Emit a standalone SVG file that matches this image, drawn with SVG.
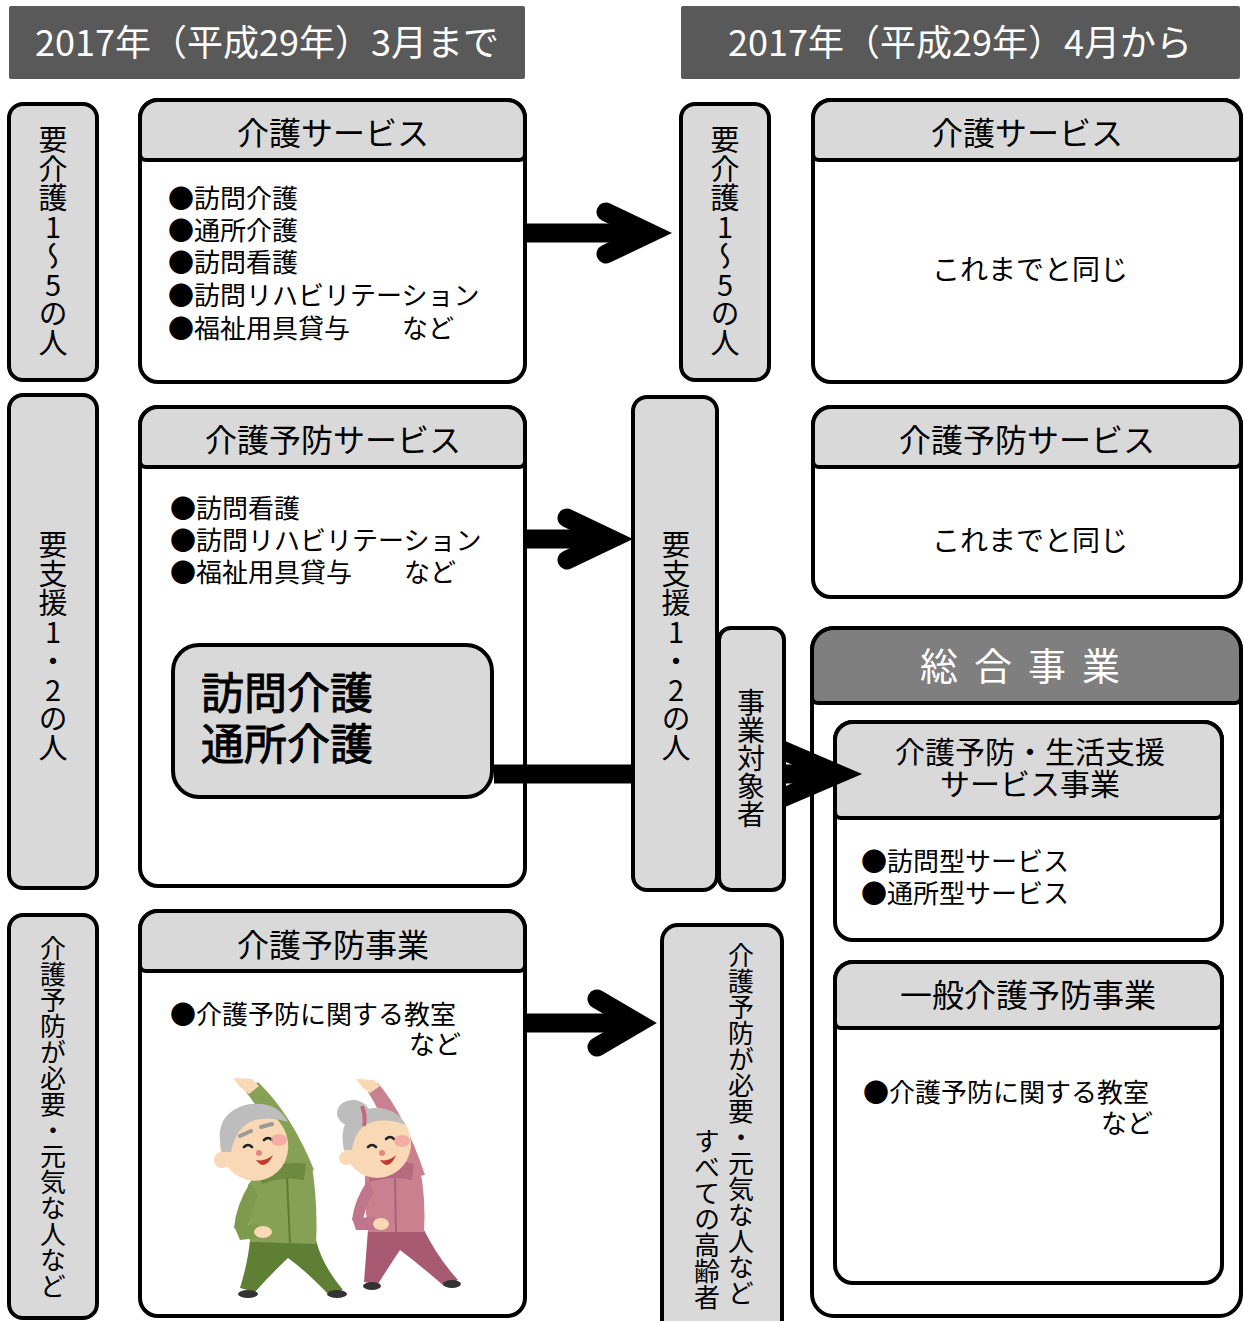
<svg xmlns="http://www.w3.org/2000/svg" width="1244" height="1321" viewBox="0 0 1244 1321">
  <style>
    text { font-family: "Noto Sans CJK JP", "Noto Sans", sans-serif; fill: #000; }
    .band { fill: #595959; }
    .band-t { fill: #fff; font-size: 36px; text-anchor: middle; }
    .box { fill: #fff; stroke: #000; stroke-width: 4; }
    .hdr { fill: #d9d9d9; stroke: #000; stroke-width: 4; }
    .hdr-dark { fill: #7f7f7f; stroke: #000; stroke-width: 4; }
    .lbl { fill: #d9d9d9; stroke: #000; stroke-width: 4; }
    .title { font-size: 32px; text-anchor: middle; }
    .item { font-size: 26px; }
    .same { font-size: 28px; text-anchor: middle; }
    .big { font-size: 43px; stroke: #000; stroke-width: 0.9; }
    .vert { writing-mode: vertical-rl; text-orientation: upright; }
    .v29 { font-size: 29px; }
    .v26 { font-size: 26px; }
    .arrow { fill: none; stroke: #000; stroke-width: 19; }
    .head { stroke-linejoin: miter; stroke-linecap: round; stroke-miterlimit: 6; }
  </style>

  <!-- period bands -->
  <g id="period-before">
    <rect class="band" x="9" y="6" width="516" height="73" rx="2"/>
    <text class="band-t" x="267" y="56">2017年（平成29年）3月まで</text>
  </g>
  <g id="period-after">
    <rect class="band" x="681" y="6" width="559" height="73" rx="2"/>
    <text class="band-t" x="960" y="56">2017年（平成29年）4月から</text>
  </g>

  <!-- left: target groups -->
  <g id="label-care-1-5">
    <rect class="lbl" x="9" y="104" width="88" height="276" rx="14"/>
    <text class="vert v29" x="53" y="125">要介護1～5の人</text>
  </g>
  <g id="label-support-1-2">
    <rect class="lbl" x="9" y="395" width="88" height="493" rx="14"/>
    <text class="vert v29" x="53" y="530">要支援1・2の人</text>
  </g>
  <g id="label-general">
    <rect class="lbl" x="9" y="915" width="88" height="403" rx="14"/>
    <text class="vert v26" x="53" y="935">介護予防が必要・元気な人など</text>
  </g>

  <!-- left: services until March -->
  <g id="care-service-before">
    <rect class="box" x="140" y="100" width="385" height="282" rx="18"/>
    <path class="hdr" d="M140,118 A18,18 0 0 1 158,100 H507 A18,18 0 0 1 525,118 V154 A6,6 0 0 1 519,160 H146 A6,6 0 0 1 140,154 Z"/>
    <text class="title" x="333" y="145">介護サービス</text>
    <text class="item" x="168" y="208">●訪問介護</text>
    <text class="item" x="168" y="240">●通所介護</text>
    <text class="item" x="168" y="272">●訪問看護</text>
    <text class="item" x="168" y="305">●訪問リハビリテーション</text>
    <text class="item" x="168" y="338">●福祉用具貸与　　など</text>
  </g>

  <g id="prevention-service-before">
    <rect class="box" x="140" y="407" width="385" height="479" rx="18"/>
    <path class="hdr" d="M140,425 A18,18 0 0 1 158,407 H507 A18,18 0 0 1 525,425 V461 A6,6 0 0 1 519,467 H146 A6,6 0 0 1 140,461 Z"/>
    <text class="title" x="333" y="452">介護予防サービス</text>
    <text class="item" x="170" y="518">●訪問看護</text>
    <text class="item" x="170" y="550">●訪問リハビリテーション</text>
    <text class="item" x="170" y="582">●福祉用具貸与　　など</text>
  </g>
  <g id="home-day-care">
    <rect class="lbl" x="173" y="645" width="319" height="152" rx="26"/>
    <text class="big" x="201" y="709">訪問介護</text>
    <text class="big" x="201" y="760">通所介護</text>
  </g>

  <g id="prevention-project-before">
    <rect class="box" x="140" y="911" width="385" height="405" rx="18"/>
    <path class="hdr" d="M140,929 A18,18 0 0 1 158,911 H507 A18,18 0 0 1 525,929 V965 A6,6 0 0 1 519,971 H146 A6,6 0 0 1 140,965 Z"/>
    <text class="title" x="333" y="957">介護予防事業</text>
    <text class="item" x="170" y="1024">●介護予防に関する教室</text>
    <text class="item" x="461" y="1054" text-anchor="end">など</text>

    <!-- two seniors doing a side stretch -->
    <g id="stretching-seniors">
      <!-- man, green tracksuit -->
      <path d="M246,1092 L258,1082 Q292,1115 314,1170 L288,1178 Q276,1130 246,1092 Z" fill="#86a055"/>
      <path d="M233,1078 L252,1079 L259,1086 L249,1094 L240,1087 Z" fill="#f8d8b5"/>
      <path d="M250,1240 L316,1240 Q322,1265 343,1290 L328,1294 Q305,1270 288,1258 Q270,1275 255,1292 L240,1288 Q248,1262 250,1240 Z" fill="#5f7f35"/>
      <ellipse cx="248" cy="1294" rx="10" ry="4" fill="#333"/>
      <ellipse cx="337" cy="1294" rx="10" ry="4" fill="#333"/>
      <path d="M258,1172 Q285,1165 312,1166 Q318,1205 316,1244 L250,1242 Q246,1210 248,1185 Z" fill="#86a055"/>
      <path d="M287,1178 L290,1243" stroke="#5e7b34" stroke-width="2" fill="none"/>
      <path d="M250,1183 Q236,1205 234,1228 L246,1234 Q250,1212 258,1195 Z" fill="#7e9a4c"/>
      <path d="M234,1226 L258,1224 L258,1238 L240,1240 Z" fill="#7e9a4c"/>
      <ellipse cx="263" cy="1232" rx="9" ry="6" fill="#f8d8b5"/>
      <path d="M258,1172 Q284,1160 306,1164 L304,1180 Q283,1176 262,1184 Z" fill="#6d8b40"/>
      <circle cx="222" cy="1160" r="8" fill="#f8d8b5"/>
      <ellipse cx="254" cy="1145" rx="34" ry="36" fill="#f8d8b5" transform="rotate(-20 254 1145)"/>
      <path d="M222,1152 Q212,1115 245,1105 Q276,1099 288,1122 Q270,1116 255,1120 Q236,1126 231,1152 Z" fill="#bdbdbd"/>
      <path d="M240,1136 L251,1131 M261,1127 L272,1124" stroke="#9a9a9a" stroke-width="4" stroke-linecap="round" fill="none"/>
      <path d="M244,1147 q4,-4 8,0 M264,1140 q4,-4 8,0" stroke="#222" stroke-width="2.5" fill="none" stroke-linecap="round"/>
      <ellipse cx="279" cy="1140" rx="8" ry="6" fill="#f3a3a0" opacity="0.8"/>
      <circle cx="259" cy="1153" r="3" fill="#e08a80"/>
      <path d="M256,1160 Q265,1172 273,1155 Q265,1162 256,1160 Z" fill="#c0392b"/>

      <!-- woman, pink tracksuit -->
      <path d="M368,1092 L378,1083 Q405,1115 425,1175 L400,1180 Q392,1130 368,1092 Z" fill="#c9808f"/>
      <path d="M356,1079 L374,1080 L380,1086 L370,1093 L362,1087 Z" fill="#f8d8b5"/>
      <path d="M368,1230 L424,1230 Q438,1258 458,1280 L444,1286 Q420,1265 400,1250 Q388,1268 378,1284 L364,1282 Q366,1255 368,1230 Z" fill="#a95a73"/>
      <ellipse cx="372" cy="1286" rx="9" ry="4" fill="#333"/>
      <ellipse cx="452" cy="1284" rx="9" ry="4" fill="#333"/>
      <path d="M365,1172 Q395,1162 420,1168 Q426,1200 424,1232 L368,1232 Q364,1200 365,1172 Z" fill="#c9808f"/>
      <path d="M395,1178 L396,1232" stroke="#a86477" stroke-width="2" fill="none"/>
      <path d="M368,1180 Q354,1200 352,1220 L362,1226 Q365,1205 374,1192 Z" fill="#c0768a"/>
      <path d="M352,1218 L375,1217 L375,1230 L356,1230 Z" fill="#c0768a"/>
      <ellipse cx="381" cy="1224" rx="8" ry="6" fill="#f8d8b5"/>
      <path d="M367,1168 Q392,1157 414,1164 L412,1180 Q392,1175 370,1182 Z" fill="#b56a7e"/>
      <circle cx="346" cy="1158" r="7" fill="#f8d8b5"/>
      <ellipse cx="377" cy="1143" rx="34" ry="35" fill="#f8d8b5" transform="rotate(-15 377 1143)"/>
      <ellipse cx="353" cy="1113" rx="16" ry="13" fill="#bdbdbd"/>
      <path d="M344,1150 Q337,1118 362,1110 Q392,1102 406,1125 Q388,1118 372,1122 Q355,1128 352,1150 Z" fill="#bdbdbd"/>
      <path d="M362,1106 Q366,1116 364,1126" stroke="#c9667f" stroke-width="4" fill="none"/>
      <path d="M368,1147 q4,-4 8,0 M386,1139 q4,-4 8,0" stroke="#222" stroke-width="2.5" fill="none" stroke-linecap="round"/>
      <ellipse cx="402" cy="1141" rx="8" ry="6" fill="#f3a3a0" opacity="0.8"/>
      <circle cx="382" cy="1153" r="3" fill="#e08a80"/>
      <path d="M380,1160 Q389,1172 396,1155 Q389,1162 380,1160 Z" fill="#c0392b"/>
    </g>
  </g>

  <!-- right: services from April -->
  <g id="care-service-after">
    <rect class="box" x="813" y="100" width="428" height="282" rx="18"/>
    <path class="hdr" d="M813,118 A18,18 0 0 1 831,100 H1223 A18,18 0 0 1 1241,118 V154 A6,6 0 0 1 1235,160 H819 A6,6 0 0 1 813,154 Z"/>
    <text class="title" x="1027" y="145">介護サービス</text>
    <text class="same" x="1030" y="280">これまでと同じ</text>
  </g>
  <g id="prevention-service-after">
    <rect class="box" x="813" y="407" width="428" height="190" rx="18"/>
    <path class="hdr" d="M813,425 A18,18 0 0 1 831,407 H1223 A18,18 0 0 1 1241,425 V461 A6,6 0 0 1 1235,467 H819 A6,6 0 0 1 813,461 Z"/>
    <text class="title" x="1027" y="452">介護予防サービス</text>
    <text class="same" x="1030" y="551">これまでと同じ</text>
  </g>
  <g id="comprehensive-project">
    <rect class="box" x="812" y="628" width="429" height="688" rx="22"/>
    <path class="hdr-dark" d="M812,650 A22,22 0 0 1 834,628 H1219 A22,22 0 0 1 1241,650 V697 A6,6 0 0 1 1235,703 H818 A6,6 0 0 1 812,697 Z"/>
    <text x="1028" y="680" style="font-size:38px;fill:#fff;text-anchor:middle;letter-spacing:16px">総合事業</text>
  </g>
  <g id="life-support-project">
    <rect class="box" x="835" y="722" width="387" height="218" rx="18"/>
    <path class="hdr" d="M835,740 A18,18 0 0 1 853,722 H1204 A18,18 0 0 1 1222,740 V812 A6,6 0 0 1 1216,818 H841 A6,6 0 0 1 835,812 Z"/>
    <text x="1030" y="763" style="font-size:30px;text-anchor:middle">介護予防・生活支援</text>
    <text x="1030" y="795" style="font-size:30px;text-anchor:middle">サービス事業</text>
    <text class="item" x="861" y="871">●訪問型サービス</text>
    <text class="item" x="861" y="903">●通所型サービス</text>
  </g>
  <g id="general-prevention-project">
    <rect class="box" x="835" y="962" width="387" height="321" rx="18"/>
    <path class="hdr" d="M835,980 A18,18 0 0 1 853,962 H1204 A18,18 0 0 1 1222,980 V1022 A6,6 0 0 1 1216,1028 H841 A6,6 0 0 1 835,1022 Z"/>
    <text class="title" x="1028" y="1007">一般介護予防事業</text>
    <text class="item" x="863" y="1102">●介護予防に関する教室</text>
    <text class="item" x="1153" y="1133" text-anchor="end">など</text>
  </g>

  <!-- transition arrows -->
  <g id="connectors">
    <g id="arrow-care">
      <line class="arrow" x1="527" y1="233" x2="650" y2="233"/>
      <polyline class="arrow head" points="606,212 650,233 606,254"/>
    </g>
    <g id="arrow-prevention">
      <line class="arrow" x1="527" y1="539" x2="611" y2="539"/>
      <polyline class="arrow head" points="567,518 611,539 567,560"/>
    </g>
    <g id="arrow-home-day-care">
      <line class="arrow" x1="494" y1="774" x2="838" y2="774"/>
      <polyline class="arrow head" points="782,750 838,774 782,798"/>
    </g>
    <g id="arrow-general">
      <line class="arrow" x1="527" y1="1023" x2="638" y2="1023"/>
      <polyline class="arrow head" points="597,999 638,1023 597,1047"/>
    </g>
  </g>

  <!-- middle: target groups from April -->
  <g id="label-care-1-5-after">
    <rect class="lbl" x="681" y="104" width="88" height="276" rx="14"/>
    <text class="vert v29" x="725" y="125">要介護1～5の人</text>
  </g>
  <g id="label-support-1-2-after">
    <rect class="lbl" x="633" y="397" width="84" height="493" rx="14"/>
    <text class="vert v29" x="676" y="530">要支援1・2の人</text>
  </g>
  <g id="label-project-target">
    <rect class="lbl" x="719" y="628" width="65" height="262" rx="12"/>
    <text class="vert" x="751" y="688" style="font-size:28px">事業対象者</text>
  </g>
  <g id="label-all-seniors">
    <rect class="lbl" x="662" y="925" width="120" height="420" rx="16"/>
    <text class="vert v26" x="741" y="942">介護予防が必要・元気な人など</text>
    <text class="vert v26" x="707" y="1310" text-anchor="end">すべての高齢者</text>
  </g>
</svg>
